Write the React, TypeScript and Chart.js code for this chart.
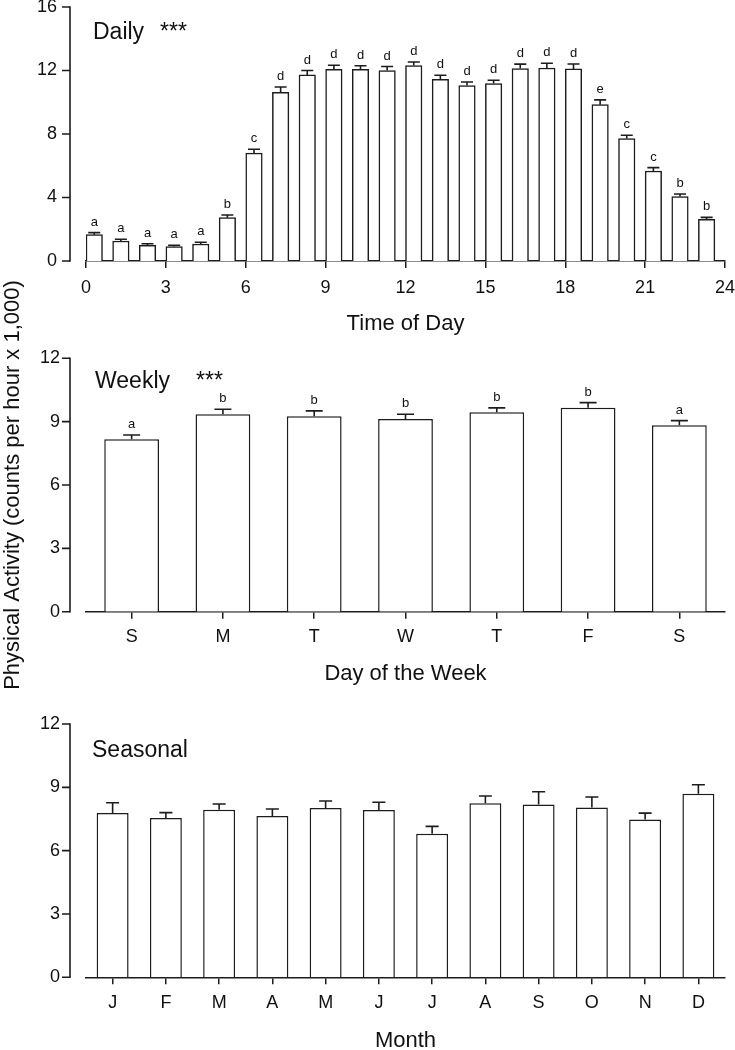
import React, { useEffect, useRef } from 'react';
import { Chart, registerables } from 'chart.js';

Chart.register(...registerables);

const FONT = '"Liberation Sans", Arial, Helvetica, sans-serif';
const INK = '#1c1c1c';

// ---------- data ----------
const hours = [0, 1, 2, 3, 4, 5, 6, 7, 8, 9, 10, 11, 12, 13, 14, 15, 16, 17, 18, 19, 20, 21, 22, 23];
const dailyMeans = [1.66, 1.26, 0.99, 0.91, 1.07, 2.73, 6.8, 10.63, 11.72, 12.08, 12.08, 12.0, 12.31, 11.45, 11.05, 11.18, 12.12, 12.16, 12.1, 9.85, 7.71, 5.67, 4.06, 2.63];
const dailySE = [0.13, 0.11, 0.1, 0.08, 0.11, 0.17, 0.24, 0.33, 0.28, 0.25, 0.22, 0.25, 0.23, 0.25, 0.23, 0.21, 0.28, 0.3, 0.31, 0.3, 0.21, 0.21, 0.16, 0.12];
const dailyLetters = ['a', 'a', 'a', 'a', 'a', 'b', 'c', 'd', 'd', 'd', 'd', 'd', 'd', 'd', 'd', 'd', 'd', 'd', 'd', 'e', 'c', 'c', 'b', 'b'];
const dailyTicks = [0, 3, 6, 9, 12, 15, 18, 21, 24];

const weekDays = ['S', 'M', 'T', 'W', 'T', 'F', 'S'];
const weeklyMeans = [8.17, 9.35, 9.26, 9.13, 9.44, 9.66, 8.83];
const weeklySE = [0.2, 0.24, 0.25, 0.22, 0.21, 0.24, 0.22];
const weeklyLetters = ['a', 'b', 'b', 'b', 'b', 'b', 'a'];

const months = ['J', 'F', 'M', 'A', 'M', 'J', 'J', 'A', 'S', 'O', 'N', 'D'];
const seasonalMeans = [7.78, 7.55, 7.94, 7.64, 8.02, 7.93, 6.8, 8.24, 8.19, 8.05, 7.47, 8.7];
const seasonalSE = [0.49, 0.25, 0.27, 0.33, 0.33, 0.36, 0.35, 0.35, 0.6, 0.49, 0.31, 0.42];

const BAR_SHIFT = 0.31; // hourly bars sit just right of the hour tick

// ---------- plugins ----------
function offsetYAxisPlugin(gap: number, tick: number) {
  return {
    id: 'offsetYAxis',
    afterDraw(chart: any) {
      const { ctx, chartArea } = chart;
      const y = chart.scales.y;
      const x = Math.round(chartArea.left - gap);
      const topPx = y.getPixelForValue(y.ticks[y.ticks.length - 1].value);
      const botPx = y.getPixelForValue(0);
      ctx.save();
      ctx.strokeStyle = INK;
      ctx.lineWidth = 1.6;
      ctx.lineCap = 'butt';
      ctx.beginPath();
      ctx.moveTo(x, topPx - 0.8);
      ctx.lineTo(x, botPx + 0.8);
      ctx.stroke();
      ctx.beginPath();
      y.ticks.forEach((t: any) => {
        const py = y.getPixelForValue(t.value);
        ctx.moveTo(x - tick, py);
        ctx.lineTo(x, py);
      });
      ctx.stroke();
      ctx.restore();
    },
  };
}

function errorBarPlugin(se: number[], letters: string[] | null, capW: number) {
  return {
    id: 'errorBars',
    afterDatasetsDraw(chart: any) {
      const { ctx } = chart;
      const y = chart.scales.y;
      const meta = chart.getDatasetMeta(0);
      const data = chart.data.datasets[0].data;
      ctx.save();
      ctx.strokeStyle = INK;
      ctx.fillStyle = '#111';
      ctx.lineWidth = 1.6;
      ctx.font = `13px ${FONT}`;
      ctx.textAlign = 'center';
      ctx.textBaseline = 'alphabetic';
      meta.data.forEach((bar: any, i: number) => {
        const d = data[i];
        const v = typeof d === 'object' ? d.y : d;
        const top = y.getPixelForValue(v);
        const cap = y.getPixelForValue(v + se[i]);
        ctx.beginPath();
        ctx.moveTo(bar.x, top);
        ctx.lineTo(bar.x, cap);
        ctx.moveTo(bar.x - capW / 2, cap);
        ctx.lineTo(bar.x + capW / 2, cap);
        ctx.stroke();
        if (letters) ctx.fillText(letters[i], bar.x, cap - 7);
      });
      ctx.restore();
    },
  };
}

function panelTitlePlugin(title: string, stars: string, dx: number, dy: number, starDx: number) {
  return {
    id: 'panelTitle',
    afterDraw(chart: any) {
      const { ctx, chartArea } = chart;
      ctx.save();
      ctx.fillStyle = '#111';
      ctx.textBaseline = 'alphabetic';
      ctx.textAlign = 'left';
      ctx.font = `23px ${FONT}`;
      ctx.fillText(title, chartArea.left + dx, chartArea.top + dy);
      if (stars) ctx.fillText(stars, chartArea.left + starDx, chartArea.top + dy);
      ctx.restore();
    },
  };
}

// ---------- shared option builders ----------
function yScale(max: number, step: number, pad: number, title?: string) {
  return {
    type: 'linear',
    min: 0,
    max,
    ticks: { stepSize: step, padding: pad, color: '#111', font: { size: 18, family: FONT } },
    grid: { display: false, drawTicks: false },
    border: { display: false },
    title: title
      ? { display: true, text: title, color: '#111', font: { size: 22, family: FONT }, padding: { top: 0, bottom: 0 } }
      : { display: false },
    afterFit(s: any) {
      s.width = 86;
      s.paddingTop = 0;
      s.paddingBottom = 0;
    },
  };
}

function xCommon(height: number, pad: number, title: string) {
  return {
    ticks: { padding: pad, color: '#111', font: { size: 18, family: FONT }, maxRotation: 0, autoSkip: false },
    grid: { display: true, drawOnChartArea: false, drawTicks: true, tickLength: 7, color: INK, lineWidth: 1.5, offset: false },
    border: { display: true, color: INK, width: 1.5 },
    title: { display: true, text: title, color: '#111', font: { size: 22, family: FONT }, padding: { top: 0, bottom: 0 } },
    afterFit(s: any) {
      s.height = height;
      s.paddingLeft = 0;
      s.paddingRight = 0;
    },
  };
}

const barStyle = {
  backgroundColor: '#ffffff',
  borderColor: INK,
  borderWidth: 1.5,
};

const baseOptions = (pt: number, pb: number) => ({
  responsive: false,
  animation: false,
  events: [],
  layout: { padding: { left: 0, right: 10, top: pt, bottom: pb } },
  plugins: { legend: { display: false }, tooltip: { enabled: false }, title: { display: false } },
});

// ---------- configs ----------
function dailyConfig(): any {
  return {
    type: 'bar',
    data: {
      datasets: [
        {
          data: hours.map((h, i) => ({ x: h + BAR_SHIFT, y: dailyMeans[i] })),
          barThickness: 16.5,
          ...barStyle,
        },
      ],
    },
    options: {
      ...baseOptions(7, 2.8),
      scales: {
        x: {
          type: 'linear',
          min: 0,
          max: 24,
          offset: false,
          afterBuildTicks(s: any) {
            s.ticks = dailyTicks.map((v) => ({ value: v }));
          },
          ...xCommon(76.2, 9.5, 'Time of Day'),
        },
        y: yScale(16, 4, 29),
      },
    },
    plugins: [offsetYAxisPlugin(16, 8), errorBarPlugin(dailySE, dailyLetters, 12), panelTitlePlugin('Daily', '***', 7, 32, 74)],
  };
}

function weeklyConfig(): any {
  return {
    type: 'bar',
    data: {
      labels: weekDays,
      datasets: [{ data: weeklyMeans, barPercentage: 0.6, categoryPercentage: 1, ...barStyle }],
    },
    options: {
      ...baseOptions(93.3, 2.8),
      scales: {
        x: { type: 'category', offset: true, ...xCommon(75.5, 8, 'Day of the Week') },
        y: yScale(12, 3, 26, 'Physical Activity (counts per hour x 1,000)'),
      },
    },
    plugins: [offsetYAxisPlugin(16, 8), errorBarPlugin(weeklySE, weeklyLetters, 17), panelTitlePlugin('Weekly', '***', 9, 30, 110)],
  };
}

function seasonalConfig(): any {
  return {
    type: 'bar',
    data: {
      labels: months,
      datasets: [{ data: seasonalMeans, barPercentage: 0.6, categoryPercentage: 1, ...barStyle }],
    },
    options: {
      ...baseOptions(44, 6.3),
      scales: {
        x: { type: 'category', offset: true, ...xCommon(76.4, 7.6, 'Month') },
        y: yScale(12, 3, 26),
      },
    },
    plugins: [offsetYAxisPlugin(16, 8), errorBarPlugin(seasonalSE, null, 13), panelTitlePlugin('Seasonal', '', 6, 32.7, 0)],
  };
}

function Panel({ top, height, make }: { top: number; height: number; make: () => any }) {
  const ref = useRef<HTMLCanvasElement | null>(null);
  useEffect(() => {
    if (!ref.current) return;
    const chart = new Chart(ref.current, make());
    return () => chart.destroy();
  }, [make]);
  return (
    <canvas
      ref={ref}
      width={735}
      height={height}
      style={{ position: 'absolute', left: 0, top, width: 735, height, display: 'block' }}
    />
  );
}

export default function App() {
  return (
    <div
      style={{
        position: 'absolute',
        left: 0,
        top: 0,
        width: 735,
        height: 1050,
        overflow: 'hidden',
        background: '#ffffff',
      }}
    >
      <Panel top={0} height={340} make={dailyConfig} />
      <Panel top={265} height={425} make={weeklyConfig} />
      <Panel top={680} height={380} make={seasonalConfig} />
    </div>
  );
}
